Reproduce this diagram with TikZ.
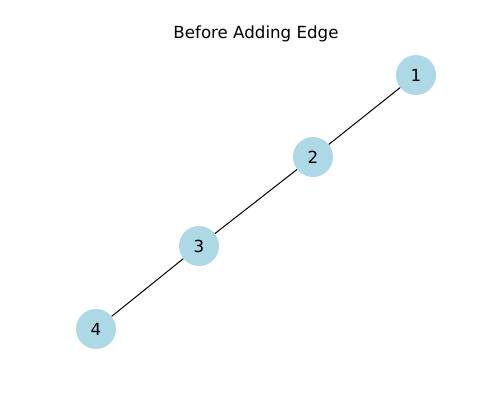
\documentclass[tikz,border=0pt]{standalone}
\usepackage{fontspec}
\setmainfont{DejaVu Sans}
\definecolor{nodeblue}{RGB}{173,216,230}
\begin{document}
\begin{tikzpicture}[x=1pt,y=1pt,
  vtx/.style={circle,fill=nodeblue,draw=none,minimum size=40pt,inner sep=0pt,font=\fontsize{16.67}{20}\selectfont},
  edge/.style={draw=black,line width=1pt}]
\useasboundingbox (0,0) rectangle (500,400);
\node[font=\fontsize{16.67}{20}\selectfont] (title) at (256,366) {Before Adding Edge};
\node[vtx] (n1) at (416,325) {1};
\node[vtx] (n2) at (313,243) {2};
\node[vtx] (n3) at (199,154) {3};
\node[vtx] (n4) at (96,71) {4};
\begin{scope}[on background layer/.try]
\end{scope}
\draw[edge] (n1) -- (n2);
\draw[edge] (n2) -- (n3);
\draw[edge] (n3) -- (n4);
\end{tikzpicture}
\end{document}
